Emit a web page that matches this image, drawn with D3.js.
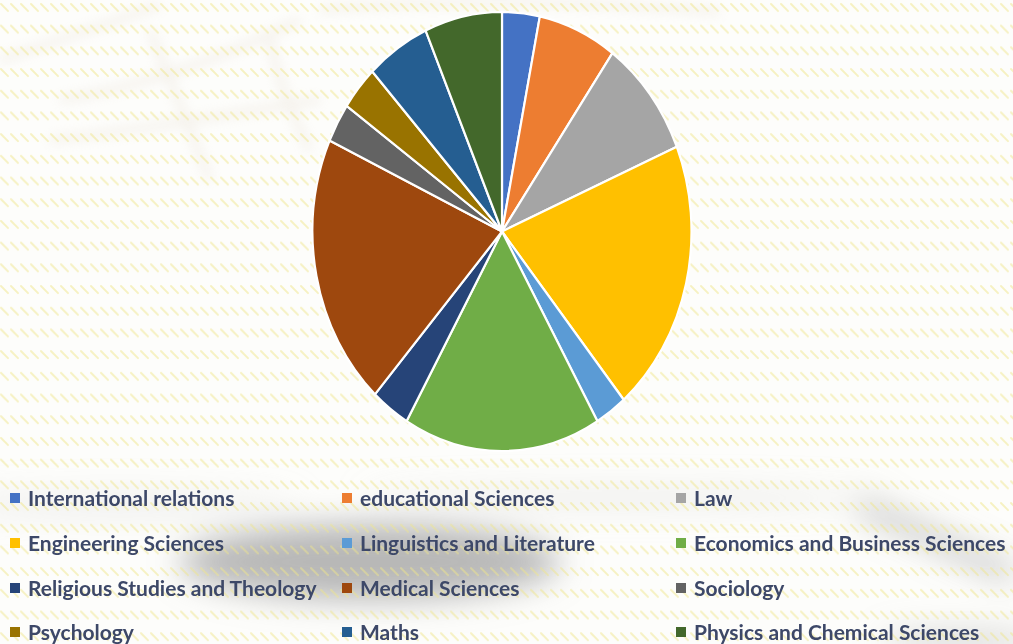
<!DOCTYPE html>
<html>
<head>
<meta charset="utf-8">
<script src="https://cdn.jsdelivr.net/npm/d3@7"></script>
<style>
  body { margin: 0; background: #fff; }
  svg { display: block; }
</style>
</head>
<body>
<div class="container"></div>
<script>
var categories = [
    'International relations', 'educational Sciences', 'Law',
    'Engineering Sciences', 'Linguistics and Literature', 'Economics and Business Sciences',
    'Religious Studies and Theology', 'Medical Sciences', 'Sociology',
    'Psychology', 'Maths', 'Physics and Chemical Sciences'
];
// share of each field, in percent
var shares = [3.2, 6.7, 8.8, 20.2, 2.7, 16.8, 3.3, 20.1, 2.9, 3.3, 5.4, 6.6];
var colors = [
    '#4472C4', '#ED7D31', '#A5A5A5', '#FFC000', '#5B9BD5', '#70AD47',
    '#264478', '#9E480E', '#636363', '#997300', '#255E91', '#43682B'
];

var W = 1013, H = 644;
var translate = (x, y) => `translate(${ x },${ y })`;

var svg = d3.select('.container').append('svg')
    .attr('width', W)
    .attr('height', H);

var defs = svg.append('defs');

var pat = defs.append('pattern')
    .attr('id', 'dashes')
    .attr('patternUnits', 'userSpaceOnUse')
    .attr('width', 10)
    .attr('height', 21.7);
pat.append('line')
    .attr('x1', 1).attr('y1', 4)
    .attr('x2', 8).attr('y2', 11)
    .attr('stroke', '#efe68a')
    .attr('stroke-opacity', 0.5)
    .attr('stroke-width', 2)
    .attr('stroke-linecap', 'round');

var blur = defs.append('filter').attr('id', 'blur')
    .attr('x', '-50%').attr('y', '-50%').attr('width', '200%').attr('height', '200%');
blur.append('feGaussianBlur').attr('stdDeviation', 16);

var blurSoft = defs.append('filter').attr('id', 'blurSoft')
    .attr('x', '-50%').attr('y', '-50%').attr('width', '200%').attr('height', '200%');
blurSoft.append('feGaussianBlur').attr('stdDeviation', 6);

// background: faint photo-like shadows under a striped overlay
var bg = svg.append('g');
bg.append('rect').attr('width', W).attr('height', H).attr('fill', '#fdfdfb');

// watermark-ish beige strokes at the top left
var wm = bg.append('g').attr('filter', 'url(#blurSoft)')
    .attr('fill', 'none').attr('stroke', '#e9e1d6').attr('stroke-width', 7).attr('opacity', 0.45);
wm.append('path').attr('d', 'M0,60 C60,40 120,20 160,5');
wm.append('path').attr('d', 'M60,100 C120,90 200,70 300,20');
wm.append('path').attr('d', 'M50,140 C150,130 250,110 320,100');
wm.append('path').attr('d', 'M150,30 C170,80 190,130 210,180');
wm.append('path').attr('d', 'M270,40 C280,90 300,130 310,150');
wm.append('path').attr('d', 'M320,10 C420,0 580,0 720,12');

// gray shadows in the legend area
var sh = bg.append('g').attr('filter', 'url(#blur)');
sh.append('ellipse').attr('cx', 370).attr('cy', 562).attr('rx', 190).attr('ry', 38)
    .attr('fill', '#a0a0a0').attr('opacity', 0.75);
sh.append('ellipse').attr('cx', 120).attr('cy', 505).attr('rx', 180).attr('ry', 10)
    .attr('fill', '#dcdcdc').attr('opacity', 0.5);
sh.append('ellipse').attr('cx', 620).attr('cy', 498).attr('rx', 260).attr('ry', 8)
    .attr('fill', '#d4d4d4').attr('opacity', 0.5);
sh.append('path').attr('d', 'M860,505 L1013,575')
    .attr('stroke', '#949494').attr('stroke-width', 16).attr('opacity', 0.6);
sh.append('ellipse').attr('cx', 960).attr('cy', 642).attr('rx', 80).attr('ry', 10)
    .attr('fill', '#a8a8a8').attr('opacity', 0.5);

bg.append('rect').attr('width', W).attr('height', H).attr('fill', 'url(#dashes)');

// pie, drawn as a circle and stretched into the ellipse
var cx = 502, cy = 231.5, rx = 189.5, ry = 219.5;

var pie = d3.pie().sort(null).value(d => d.v);
var arc = d3.arc().innerRadius(0).outerRadius(rx);
var data = categories.map((c, i) => ({name: c, v: shares[i], color: colors[i]}));

var pg = svg.append('g')
    .attr('transform', translate(cx, cy) + ` scale(1,${ ry / rx })`);

pg.selectAll('path.slice')
    .data(pie(data))
    .enter().append('path')
    .classed('slice', true)
    .attr('d', arc)
    .attr('fill', d => d.data.color)
    .attr('stroke', '#ffffff')
    .attr('stroke-width', 2.2)
    .attr('stroke-linejoin', 'round')
    .attr('vector-effect', 'non-scaling-stroke');

// legend, three columns
var colX = [10, 342, 676];
var rowY = [498, 543, 588, 632];

var lg = svg.append('g').classed('legend', true);
var items = lg.selectAll('g.item')
    .data(data)
    .enter().append('g')
    .classed('item', true)
    .attr('transform', (d, i) => translate(colX[i % 3], rowY[Math.floor(i / 3)]));

items.append('rect')
    .attr('x', 0).attr('y', -5)
    .attr('width', 10).attr('height', 10)
    .attr('fill', d => d.color);

items.append('text')
    .attr('x', 18)
    .attr('y', 7.5)
    .attr('font-family', 'Lato, "Open Sans", sans-serif')
    .attr('font-weight', 700)
    .attr('font-size', 21)
    .attr('fill', '#3d4868')
    .text(d => d.name);
</script>
</body>
</html>
